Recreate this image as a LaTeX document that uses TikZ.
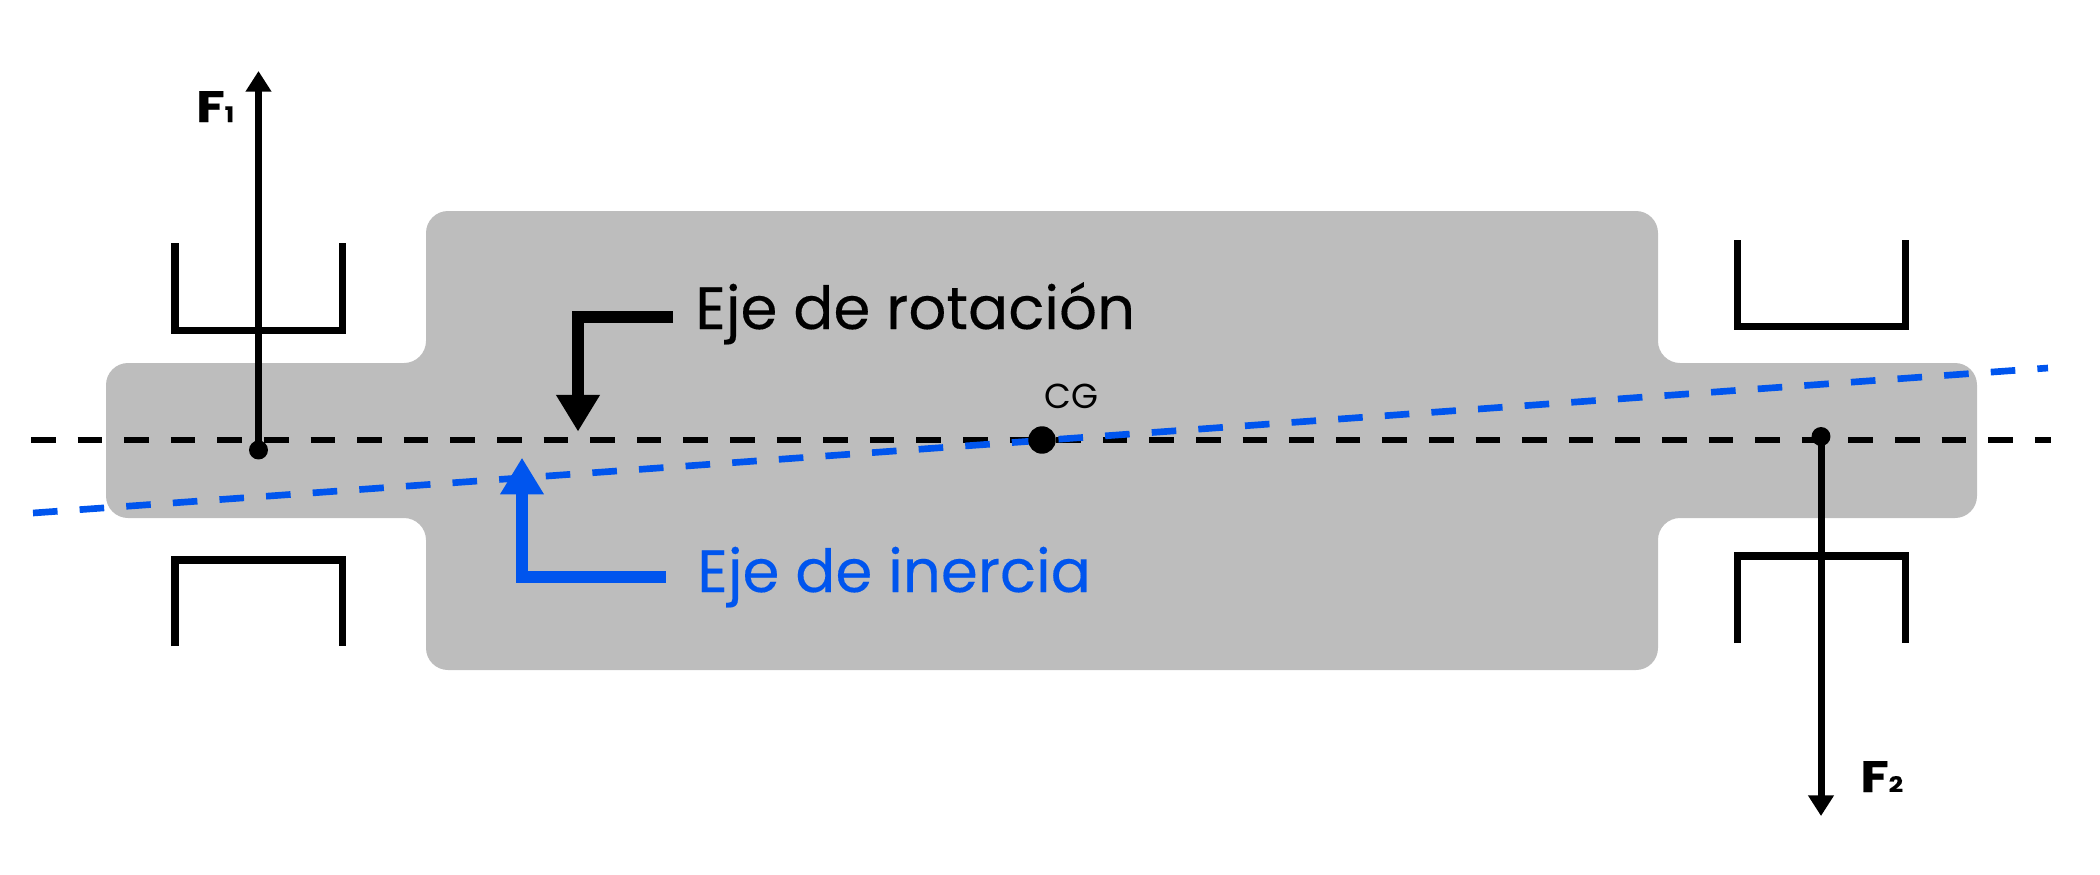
\documentclass[tikz,border=0pt]{standalone}
\usepackage{fontspec}
\setmainfont{Poppins}[FakeBold=0.25]
\newfontfamily\plainface{Poppins}
\usetikzlibrary{arrows.meta}
\definecolor{bodygrey}{HTML}{BDBDBD}
\definecolor{axisblue}{HTML}{0055EE}
\tikzset{
  x=0.75pt,y=-0.75pt,
  shaftbody/.style={fill=bodygrey,draw=none,rounded corners=16.5pt},
  bearing/.style={draw=black,line width=5.4pt,miter limit=10,line cap=butt},
  axisline/.style={line width=4.2pt,dash pattern=on 18.4pt off 16.55pt},
  inertialine/.style={line width=5pt,dash pattern=on 18.45pt off 16.6pt},
  force/.style={draw=black,line width=5.25pt,-{Triangle[length=15.4pt,width=18.4pt]}},
  pointer/.style={line width=9.2pt,-{Triangle[length=27.5pt,width=31pt]},miter limit=10},
  smalldot/.style={circle,fill=black,inner sep=0pt,minimum size=14.2pt},
  bigdot/.style={circle,fill=black,inner sep=0pt,minimum size=20.6pt},
  bigtext/.style={inner sep=0pt,anchor=base west,font=\fontsize{44.6}{50}\selectfont},
  forcetext/.style={inner sep=0pt,anchor=base west,font=\fontsize{33}{38}\selectfont\bfseries},
  cgtext/.style={inner sep=0pt,anchor=base west,font=\plainface\fontsize{26}{30}\selectfont},
}
\newcommand{\subidx}[1]{{\fontsize{16}{18}\selectfont #1}}
\begin{document}
\begin{tikzpicture}
\useasboundingbox (0,0) rectangle (2100,875);
% rotor
\path[shaftbody] (426,211) -- (1658,211) -- (1658,363) -- (1977,363) -- (1977,518)
  -- (1658,518) -- (1658,670) -- (426,670) -- (426,518) -- (106,518) -- (106,363)
  -- (426,363) -- cycle;
% bearings
\draw[bearing] (175,243) -- (175,330.5) -- (342.5,330.5) -- (342.5,243);
\draw[bearing] (175,646) -- (175,560) -- (342.5,560) -- (342.5,646);
\draw[bearing] (1737.5,240) -- (1737.5,326.5) -- (1905.5,326.5) -- (1905.5,240);
\draw[bearing] (1737.5,643) -- (1737.5,556) -- (1905.5,556) -- (1905.5,643);
% axes
\coordinate (rotA) at (31,440);
\coordinate (rotB) at (2051,440);
\coordinate (inerA) at (33,513);
\coordinate (inerB) at (2048,368);
\draw[axisline,black] (rotA) -- (rotB);
\draw[inertialine,axisblue] (inerA) -- (inerB);
% points
\node[smalldot] (p1) at (258.5,450) {};
\node[smalldot] (p2) at (1821,436.5) {};
\node[bigdot] (cg) at (1042,440) {};
% forces
\coordinate (f1tip) at (258.5,71);
\coordinate (f2tip) at (1821,816);
\draw[force] (p1.center) -- (f1tip);
\draw[force] (p2.center) -- (f2tip);
% pointers
\coordinate (rotStart) at (673,317);
\coordinate (rotTip) at (578,431.6);
\coordinate (inerStart) at (665.6,577);
\coordinate (inerTip) at (522,457.7);
\draw[pointer,black] (rotStart) -| (rotTip);
\draw[pointer,axisblue] (inerStart) -| (inerTip);
% labels
\node[bigtext,text=black] (rotLabel) at (695,329) {Eje de rotación};
\node[bigtext,text=axisblue] (inerLabel) at (697,592) {Eje de inercia};
\node[cgtext] (cgLabel) at (1044,408) {CG};
\node[forcetext] (f1Label) at (196,122) {\scalebox{1.18}[1]{F\subidx{1}}};
\node[forcetext] (f2Label) at (1860,792) {\scalebox{1.18}[1]{F\subidx{2}}};
\end{tikzpicture}
\end{document}
